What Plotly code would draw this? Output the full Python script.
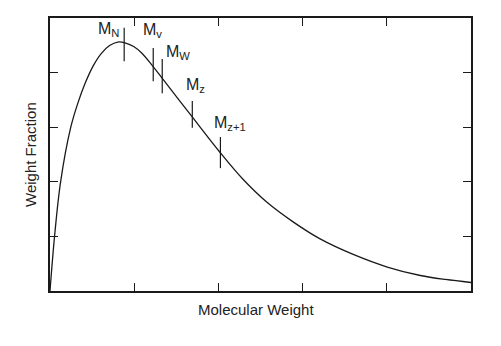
import plotly.graph_objects as go

# Molecular weight distribution curve (arbitrary units)
mw_x = [0.0, 0.054, 0.125, 0.244, 0.327, 0.423, 0.518, 0.613, 0.708, 0.804,
        0.899, 0.994, 1.089, 1.220, 1.327, 1.673, 2.018, 2.292, 2.577, 2.887,
        3.208, 3.601, 4.006, 4.399, 4.696, 5.0]
wf_y = [0.0, 1.000, 1.991, 2.982, 3.422, 3.826, 4.138, 4.358, 4.495, 4.560,
        4.541, 4.477, 4.358, 4.119, 3.908, 3.220, 2.541, 2.046, 1.624, 1.266,
        0.954, 0.670, 0.439, 0.284, 0.211, 0.156]

# Average molecular weight markers
avg_labels = ["M<sub>N</sub>", "M<sub>v</sub>", "M<sub>W</sub>", "M<sub>z</sub>", "M<sub>z+1</sub>"]
avg_x = [0.881, 1.226, 1.333, 1.690, 2.024]
avg_low = [4.21, 3.84, 3.62, 2.99, 2.25]
avg_high = [4.82, 4.45, 4.25, 3.48, 2.82]

x_ticks = [0, 1, 2, 3, 4, 5]
y_ticks = [0, 1, 2, 3, 4, 5]

x_title = "Molecular Weight"
y_title = "Weight Fraction"

# label offsets in pixels (style)
label_shift = [(-16, -2), (-1, 18), (16, 6), (3, 15), (10, 14)]

FONT = "Arial, Liberation Sans, Helvetica, sans-serif"
INK = "#1a1a1a"

fig = go.Figure()
fig.add_trace(go.Scatter(x=mw_x, y=wf_y, mode="lines",
                         line=dict(color=INK, width=1.3, shape="spline", smoothing=1.0),
                         hoverinfo="skip", showlegend=False))

for lab, xv, lo, hi, (dx, dy) in zip(avg_labels, avg_x, avg_low, avg_high, label_shift):
    fig.add_trace(go.Scatter(x=[xv, xv], y=[lo, hi], mode="lines",
                             line=dict(color=INK, width=1.2),
                             hoverinfo="skip", showlegend=False))
    fig.add_annotation(x=xv, y=hi, text=lab, showarrow=False,
                       xanchor="center", yanchor="middle",
                       xshift=dx, yshift=dy,
                       font=dict(family=FONT, size=16, color="#222222"))

axis_common = dict(showline=True, linecolor=INK, linewidth=1.6, mirror="ticks",
                   ticks="inside", ticklen=8, tickwidth=1.4, tickcolor=INK,
                   showticklabels=False, showgrid=False, zeroline=False)

fig.update_xaxes(range=[0, 5], tickvals=x_ticks, **axis_common)
fig.update_yaxes(range=[0, 5], tickvals=y_ticks, **axis_common)

fig.add_annotation(xref="paper", yref="paper", x=0.49, y=0, yshift=-8,
                   text=x_title, showarrow=False, xanchor="center", yanchor="top",
                   font=dict(family=FONT, size=15, color="#222222"))
fig.add_annotation(xref="paper", yref="paper", x=0, y=0.5, xshift=-9,
                   text=y_title, showarrow=False, textangle=-90,
                   xanchor="right", yanchor="middle",
                   font=dict(family=FONT, size=15, color="#222222"))

fig.update_layout(width=501, height=346,
                  margin=dict(l=50, r=30, t=18, b=55),
                  paper_bgcolor="white", plot_bgcolor="white")

fig.write_html("out.html")
